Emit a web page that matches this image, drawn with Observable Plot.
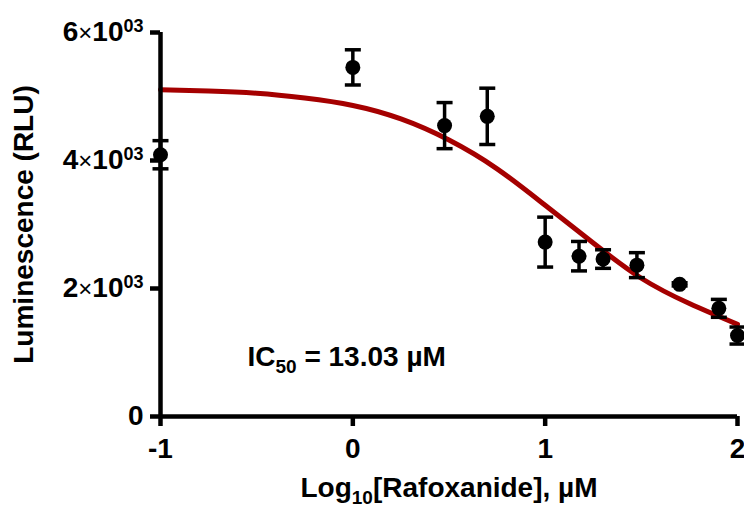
<!DOCTYPE html>
<html>
<head>
<meta charset="utf-8">
<script src="https://cdn.jsdelivr.net/npm/d3@7"></script>
<script src="https://cdn.jsdelivr.net/npm/@observablehq/plot@0.6"></script>
<style>
  html, body { margin: 0; padding: 0; background: #fff; }
  #chart svg { font-family: "Liberation Sans", Arial, Helvetica, sans-serif; }
</style>
</head>
<body>
<div id="chart"></div>
<script>
// ---- data ----
const logConc = [-1, 0, 0.477, 0.699, 1, 1.176, 1.301, 1.477, 1.699, 1.903, 2];
const meanRLU = [4090, 5455, 4545, 4690, 2725, 2505, 2460, 2365, 2065, 1690, 1265];
const semRLU  = [220, 275, 360, 440, 390, 230, 145, 195, 25, 140, 133];

const fitX = [-1, -0.75, -0.5, -0.25, 0, 0.25, 0.5, 0.75, 1, 1.25, 1.5, 1.75, 2];
const fitY = [5105, 5085, 5050, 4975, 4860, 4650, 4320, 3870, 3300, 2710, 2160, 1765, 1440];

const xTicks = [-1, 0, 1, 2];
const xTickLabels = ["-1", "0", "1", "2"];
const yTicks = [0, 2000, 4000, 6000];
const yTickBase = ["0", "2×10", "4×10", "6×10"];
const yTickExp  = ["", "03", "03", "03"];

const yTitle = "Luminescence (RLU)";
const xTitleParts = [["Log", ""], ["10", "sub"], ["[Rafoxanide], µM", ""]];
const icParts = [["IC", ""], ["50", "sub"], [" = 13.03 µM", ""]];

// ---- tables built from the arrays ----
const points = logConc.map((x, i) => ({x, y: meanRLU[i], lo: meanRLU[i] - semRLU[i], hi: meanRLU[i] + semRLU[i]}));
const fit = fitX.map((x, i) => ({x, y: fitY[i]}));
const joinParts = (p) => p.map(d => d[0]).join("");

const capSymbol = {
  draw(ctx, size) {
    const r = Math.sqrt(size / Math.PI);
    ctx.moveTo(-r, 0);
    ctx.lineTo(r, 0);
  }
};

const FONT = 28;
const chart = Plot.plot({
  width: 744,
  height: 509,
  marginLeft: 160,
  marginRight: 7,
  marginTop: 32,
  marginBottom: 93,
  style: {background: "#fff", color: "#000", fontSize: FONT + "px"},
  x: {domain: [-1, 2]},
  y: {domain: [0, 6000]},
  marks: [
    Plot.line(fit, {x: "x", y: "y", stroke: "#a50000", strokeWidth: 5, curve: "natural"}),
    Plot.ruleX([xTicks[0]], {stroke: "#000", strokeWidth: 4.5}),
    Plot.ruleY([yTicks[0]], {stroke: "#000", strokeWidth: 4.5}),
    Plot.axisX(xTicks, {
      tickSize: 10, tickPadding: 12, strokeWidth: 4.5,
      fontSize: FONT, fontWeight: "bold", label: null,
      tickFormat: d => xTickLabels[xTicks.indexOf(d)]
    }),
    Plot.axisY(yTicks, {
      tickSize: 10, tickPadding: 7, strokeWidth: 4.5,
      fontSize: FONT, fontWeight: "bold", label: null,
      tickFormat: d => yTickBase[yTicks.indexOf(d)]
    }),
    Plot.ruleX(points, {x: "x", y1: "lo", y2: "hi", stroke: "#000", strokeWidth: 3.5}),
    Plot.dot(points, {x: "x", y: "hi", symbol: capSymbol, r: 8, stroke: "#000", strokeWidth: 3.5}),
    Plot.dot(points, {x: "x", y: "lo", symbol: capSymbol, r: 8, stroke: "#000", strokeWidth: 3.5}),
    Plot.dot(points, {x: "x", y: "y", r: 7.5, fill: "#000", stroke: "none"}),
    Plot.text([joinParts(icParts)], {
      text: d => d, frameAnchor: "bottom-left", textAnchor: "start",
      dx: 87, dy: -51, fontSize: FONT, fontWeight: "bold", fill: "#000"
    }),
    Plot.text([joinParts(xTitleParts)], {
      text: d => d, frameAnchor: "bottom", textAnchor: "middle",
      dy: 80, fontSize: FONT, fontWeight: "bold", fill: "#000"
    }),
    Plot.text([yTitle], {
      text: d => d, frameAnchor: "left", textAnchor: "middle", rotate: -90,
      dx: -136, dy: 0, fontSize: FONT, fontWeight: "bold", fill: "#000"
    })
  ]
});
document.getElementById("chart").appendChild(chart);

// ---- rich text: subscripts & superscripts as real tspans ----
const svg = d3.select(chart);
function applyParts(parts) {
  const full = joinParts(parts);
  svg.selectAll("text").filter(function() { return this.textContent === full; }).each(function() {
    const t = d3.select(this);
    t.text(null);
    let shifted = false;
    parts.forEach(([s, kind]) => {
      const ts = t.append("tspan").text(s);
      if (kind === "sub") {
        ts.attr("font-size", 19).attr("dy", 7);
        shifted = true;
      } else if (shifted) {
        ts.attr("dy", -7);
        shifted = false;
      }
    });
  });
}
applyParts(xTitleParts);
applyParts(icParts);

svg.selectAll('g[aria-label="y-axis tick label"] text').each(function() {
  const t = d3.select(this);
  const i = yTickBase.indexOf(t.text());
  if (i < 0 || !yTickExp[i]) return;
  const base = yTickBase[i];
  const k = base.indexOf("×");
  t.text(null);
  t.append("tspan").text(base.slice(0, k));
  t.append("tspan").text("×").attr("font-weight", "normal").attr("font-size", 24);
  t.append("tspan").text(base.slice(k + 1));
  t.append("tspan").text(yTickExp[i]).attr("font-size", 18).attr("dy", -9);
});
</script>
</body>
</html>
